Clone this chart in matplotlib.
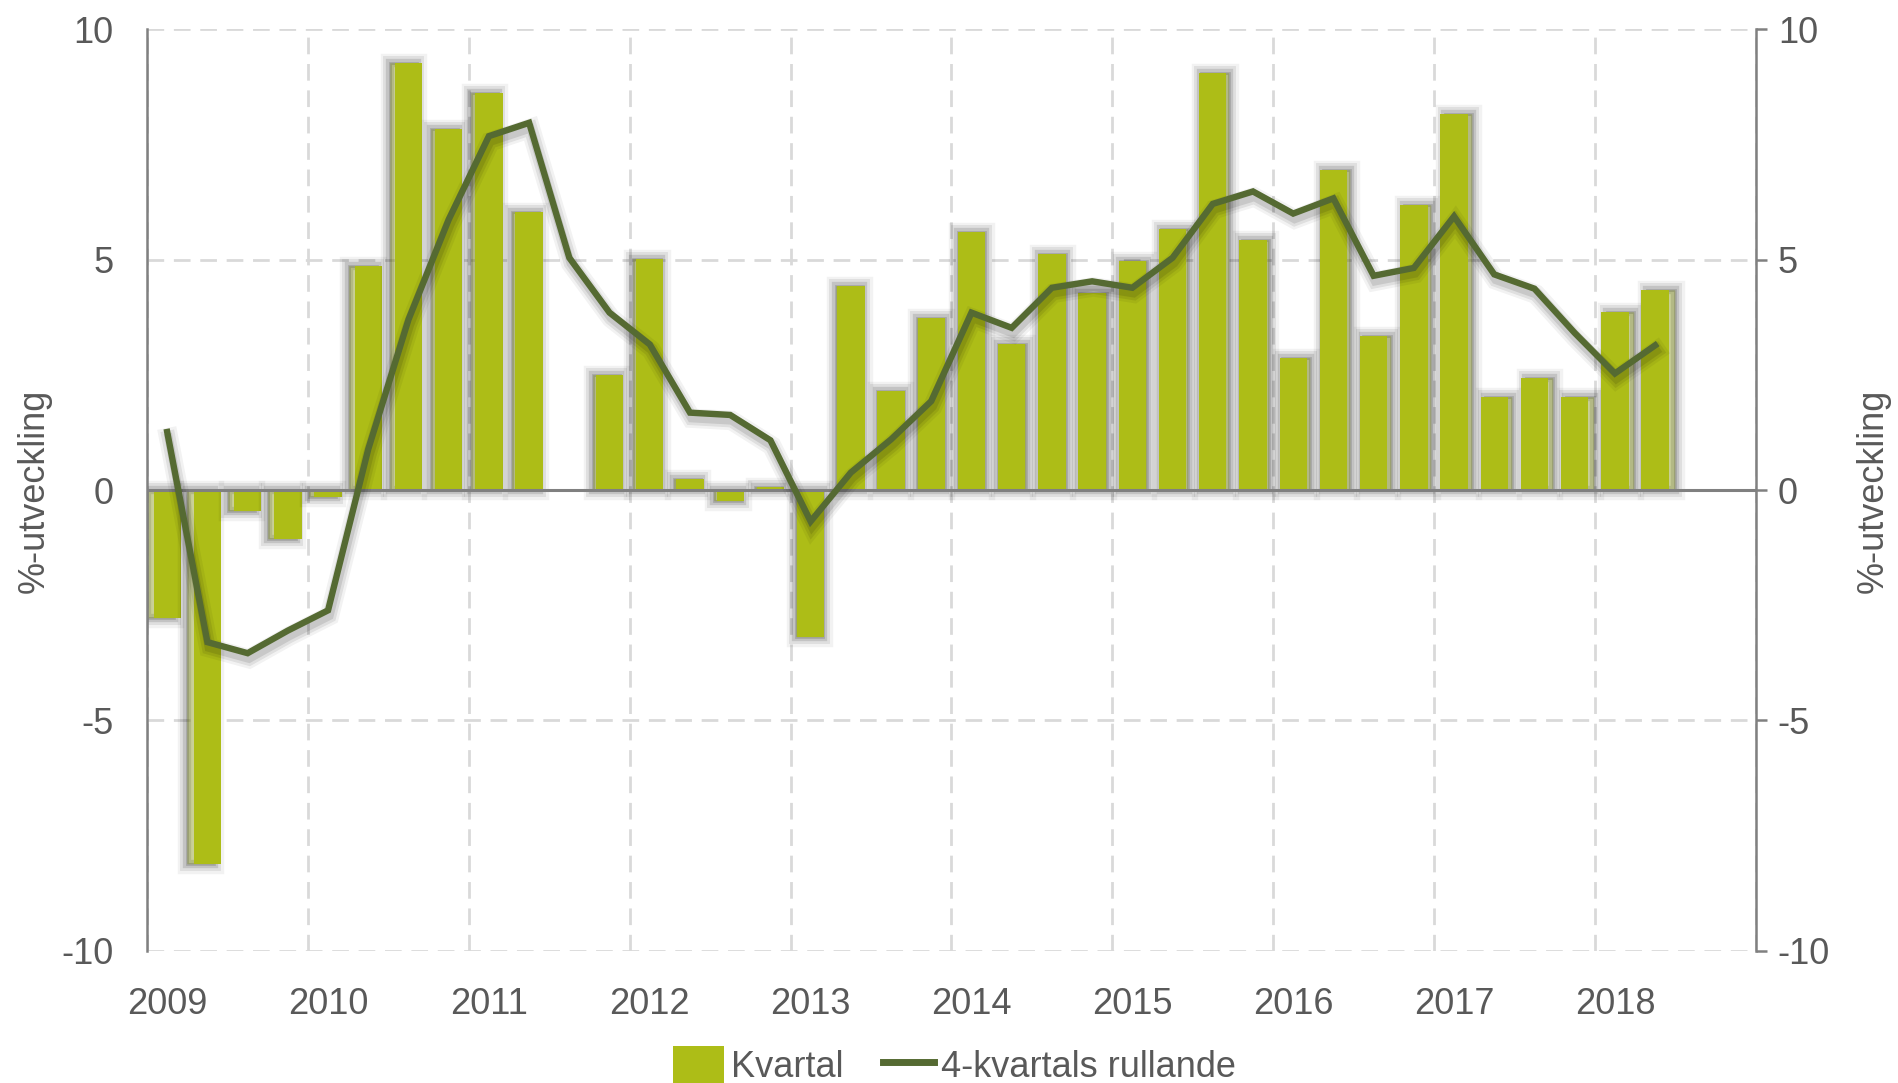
import numpy as np
import matplotlib.pyplot as plt
import matplotlib.patheffects as pe
from matplotlib.patches import Patch
from matplotlib.lines import Line2D

plt.rcParams['font.family'] = ['Liberation Sans', 'DejaVu Sans']

# kvartalsvis utveckling (%), 2009 K1 - 2018 K2
kvartal = [-2.77, -8.12, -0.45, -1.06,
           -0.14, 4.87, 9.27, 7.84,
           8.61, 6.03, np.nan, 2.49,
           5.01, 0.24, -0.24, 0.07,
           -3.18, 4.42, 2.16, 3.74,
           5.59, 3.18, 5.12, 4.28,
           4.96, 5.66, 9.05, 5.43,
           2.87, 6.95, 3.34, 6.18,
           8.17, 2.02, 2.43, 2.02,
           3.87, 4.34]

rullande = [1.26, -3.30, -3.54, -3.05,
            -2.61, 0.89, 3.70, 5.87,
            7.68, 7.97, 5.04, 3.85,
            3.16, 1.68, 1.63, 1.08,
            -0.68, 0.38, 1.10, 1.93,
            3.85, 3.52, 4.39, 4.53,
            4.39, 5.04, 6.21, 6.48,
            6.00, 6.33, 4.65, 4.82,
            5.94, 4.68, 4.37, 3.41,
            2.53, 3.14]

years = ['2009', '2010', '2011', '2012', '2013', '2014', '2015', '2016', '2017', '2018']
yticks = [-10, -5, 0, 5, 10]
ytick_labels = ['-10', '-5', '0', '5', '10']

bar_color = '#ADBD17'
line_color = '#556A32'
axis_gray = '#808080'
grid_gray = '#D9D9D9'
text_color = '#595959'
fs = 26

fig = plt.figure(figsize=(18.98, 10.83), dpi=100)
ax = fig.add_axes([0.0775, 0.122, 0.8475, 0.851])

n_slots = 40
x = np.arange(len(kvartal)) + 0.5

bars = ax.bar(x, kvartal, width=0.68, color=bar_color, zorder=2)
for i, b in enumerate(bars):
    dx = (i - 20) / 20 * 5
    b.set_path_effects([
        pe.Stroke(linewidth=14, foreground='black', alpha=0.05, offset=(dx, 0)),
        pe.Stroke(linewidth=10, foreground='black', alpha=0.08, offset=(dx, 0)),
        pe.Stroke(linewidth=6, foreground='black', alpha=0.12, offset=(dx, 0)),
        pe.Stroke(linewidth=2, foreground='black', alpha=0.15, offset=(dx, 0)),
        pe.Normal(),
    ])

ax.axhline(0, color=axis_gray, lw=2.2, zorder=3)

ax.plot(x, rullande, color=line_color, lw=4.6, zorder=4,
        solid_joinstyle='miter',
        path_effects=[
            pe.Stroke(linewidth=14, foreground='black', alpha=0.05, offset=(1, -4)),
            pe.Stroke(linewidth=10, foreground='black', alpha=0.08, offset=(1, -4)),
            pe.Stroke(linewidth=6, foreground='black', alpha=0.10, offset=(1, -4)),
            pe.Normal(),
        ])

ax.set_xlim(0, n_slots)
ax.set_ylim(-10, 10)

# grid
ax.set_xticks(np.arange(0, n_slots + 1, 4))
ax.set_xticklabels([])
ax.set_xticks(np.arange(len(years)) * 4 + 0.5, minor=True)
ax.set_xticklabels(years, minor=True)
ax.tick_params(axis='x', which='both', length=0)
ax.tick_params(axis='x', which='minor', pad=26, labelsize=fs, labelcolor=text_color)
ax.grid(True, which='major', color=grid_gray, lw=2, linestyle=(0, (6, 3.5)), zorder=0)

ax.set_yticks(yticks)
ax.set_yticklabels(ytick_labels)
ax.tick_params(axis='y', length=0, pad=24, labelsize=fs, labelcolor=text_color)

for s in ['top', 'bottom', 'right']:
    ax.spines[s].set_visible(False)
ax.spines['left'].set_color(axis_gray)
ax.spines['left'].set_linewidth(1.8)

ax2 = ax.twinx()
ax2.set_ylim(-10, 10)
ax2.set_yticks(yticks)
ax2.set_yticklabels(ytick_labels)
ax2.tick_params(axis='y', length=8, width=1.8, color=axis_gray, pad=8,
                labelsize=fs, labelcolor=text_color, direction='out')
for s in ['top', 'bottom', 'left']:
    ax2.spines[s].set_visible(False)
ax2.spines['right'].set_color(axis_gray)
ax2.spines['right'].set_linewidth(1.8)

fig.text(0.018, 0.547, '%-utveckling', rotation=90, ha='center', va='center',
         fontsize=fs, color=text_color)
fig.text(0.987, 0.547, '%-utveckling', rotation=90, ha='center', va='center',
         fontsize=fs, color=text_color)

handles = [Patch(facecolor=bar_color, edgecolor='none'),
           Line2D([0], [0], color=line_color, lw=5)]
fig.legend(handles, ['Kvartal', '4-kvartals rullande'], loc='center',
           bbox_to_anchor=(0.503, 0.016), ncol=2, frameon=False,
           fontsize=fs, labelcolor=text_color, handlelength=1.4,
           handleheight=1.2, handletextpad=0.2, columnspacing=1.1)

fig.savefig('out.png', dpi=100)
